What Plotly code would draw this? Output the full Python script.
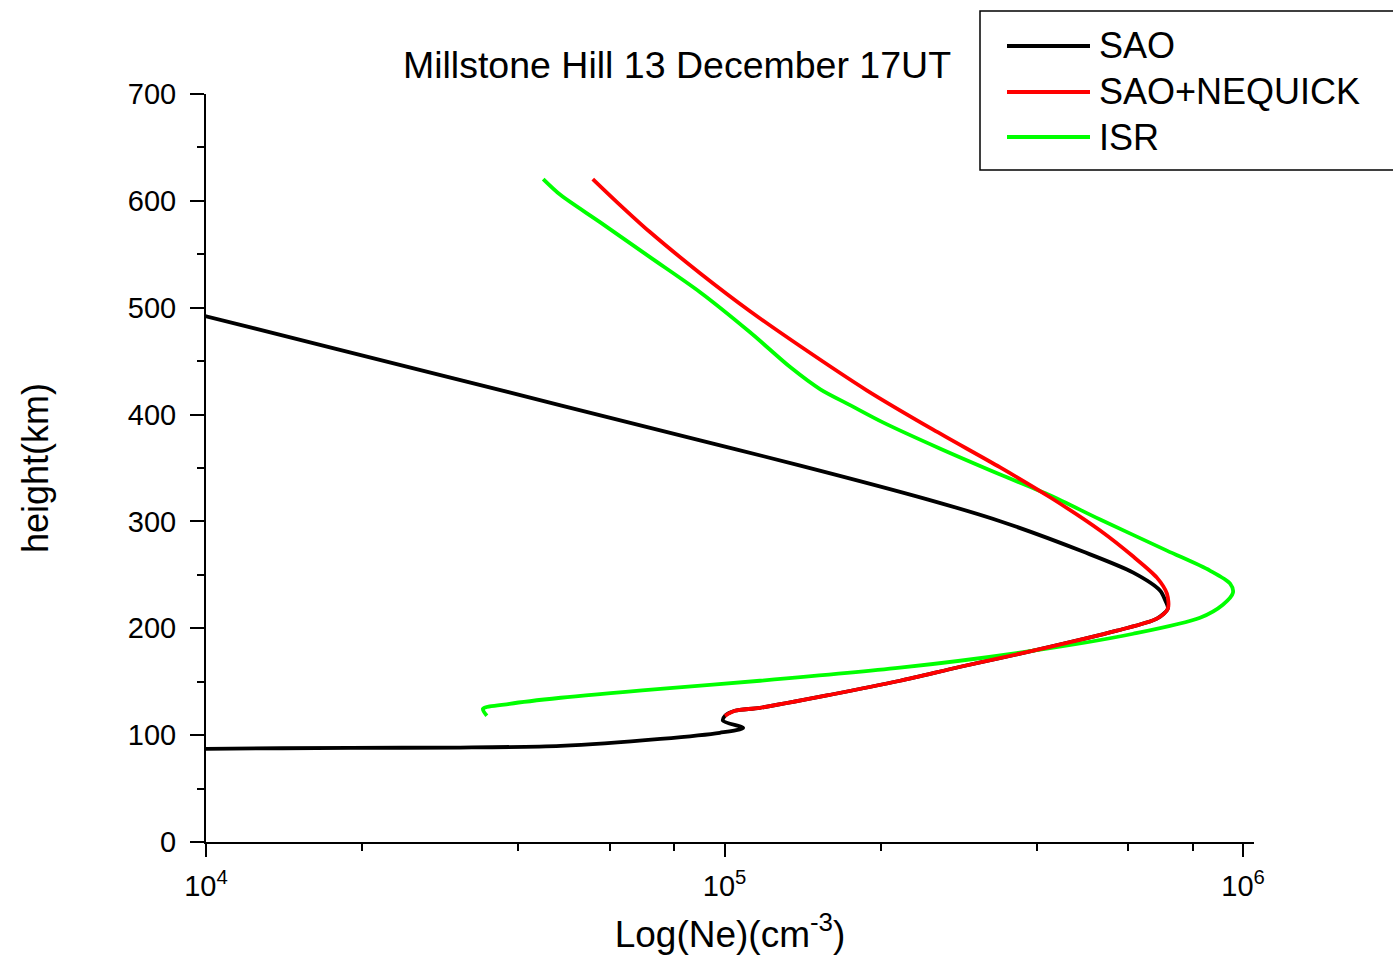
import plotly.graph_objects as go

# Electron density profiles (Ne in cm^-3, height in km)
sao_ne = [8.0e3, 1.0e4, 1.90e4, 3.09e4, 4.83e4, 7.52e4, 9.79e4, 1.086e5, 9.93e4, 1.002e5,
          1.047e5, 1.17e5, 1.60e5, 2.18e5, 2.85e5, 3.94e5, 5.71e5, 6.82e5, 7.16e5, 7.08e5,
          6.92e5, 6.14e5, 4.91e5, 3.40e5, 2.46e5, 1.40e5, 8.97e4, 2.82e4, 1.0e4, 8.9e3]
sao_h = [86.5, 87.2, 88.1, 88.4, 90.0, 96.5, 102.2, 106.8, 113.4, 118.1,
         122.8, 125.6, 137.8, 150.9, 164.0, 179.0, 197.8, 209.0, 218.4, 225.9,
         235.2, 252.1, 271.8, 300.2, 320.7, 352.3, 375.8, 437.2, 492.0, 498.0]

nequick_ne = [1.002e5, 1.047e5, 1.17e5, 1.60e5, 2.18e5, 2.85e5, 3.94e5, 5.71e5, 6.82e5,
              7.16e5, 7.13e5, 6.82e5, 6.14e5, 5.30e5, 4.25e5, 3.40e5, 2.52e5, 1.88e5,
              1.40e5, 1.12e5, 8.97e4, 7.18e4, 6.20e4, 5.57e4]
nequick_h = [118.1, 122.8, 125.6, 137.8, 150.9, 164.0, 179.0, 197.8, 209.0,
             218.4, 232.4, 247.4, 267.1, 291.5, 322.4, 350.5, 386.1, 422.7,
             463.9, 496.7, 532.3, 570.8, 598.9, 620.4]

isr_ne = [3.48e4, 3.42e4, 3.85e4, 4.83e4, 7.52e4, 1.17e5, 2.18e5, 3.94e5, 6.14e5, 8.26e5,
          9.14e5, 9.56e5, 9.44e5, 8.63e5, 7.13e5, 5.30e5, 4.25e5, 3.40e5, 2.60e5, 2.02e5,
          1.75e5, 1.53e5, 1.34e5, 1.12e5, 8.97e4, 7.18e4, 5.75e4, 4.83e4, 4.47e4]
isr_h = [118.1, 124.6, 129.3, 135.0, 143.4, 150.9, 163.1, 179.0, 194.9, 209.9,
         222.1, 233.4, 241.8, 254.0, 272.7, 301.8, 324.3, 343.9, 368.3, 392.7,
         408.6, 423.6, 444.2, 477.0, 514.5, 547.3, 580.1, 605.4, 620.4]

series_names = ["SAO", "SAO+NEQUICK", "ISR"]
series_colors = ["#000000", "#ff0000", "#00ff00"]

x_major = [1e4, 1e5, 1e6]
x_major_text = ["10<sup>4</sup>", "10<sup>5</sup>", "10<sup>6</sup>"]
x_minor = [2e4, 4e4, 6e4, 8e4, 2e5, 4e5, 6e5, 8e5]

FONT = "Arial, Liberation Sans, sans-serif"
W, H = 1393, 966
L, R, T, B = 206, 139, 94, 124

fig = go.Figure()
line_kw = dict(width=3.8, shape="spline", smoothing=0.8)
# draw order: SAO first, then ISR, then SAO+NEQUICK on top
fig.add_trace(go.Scatter(x=sao_ne, y=sao_h, mode="lines", name=series_names[0],
                         line=dict(color=series_colors[0], **line_kw), showlegend=False))
fig.add_trace(go.Scatter(x=isr_ne, y=isr_h, mode="lines", name=series_names[2],
                         line=dict(color=series_colors[2], **line_kw), showlegend=False))
fig.add_trace(go.Scatter(x=nequick_ne, y=nequick_h, mode="lines", name=series_names[1],
                         line=dict(color=series_colors[1], **line_kw), showlegend=False))

pw = W - L - R
ph = H - T - B


def px_x(px):
    return (px - L) / pw


def px_y(py):
    return (H - B - py) / ph


# legend box with long line samples
shapes = [dict(type="rect", xref="paper", yref="paper",
               x0=px_x(980), x1=px_x(1400), y0=px_y(170), y1=px_y(11),
               line=dict(color="black", width=1.5), fillcolor="white", layer="above")]
annotations = []
legend_rows = [46, 92, 137]
for name, color, row in zip(series_names, series_colors, legend_rows):
    shapes.append(dict(type="line", xref="paper", yref="paper",
                       x0=px_x(1007), x1=px_x(1090), y0=px_y(row), y1=px_y(row),
                       line=dict(color=color, width=4), layer="above"))
    annotations.append(dict(xref="paper", yref="paper", x=px_x(1097), y=px_y(row),
                            xanchor="left", yanchor="middle", text=name, showarrow=False,
                            font=dict(family=FONT, size=36, color="black")))

fig.update_layout(
    width=W, height=H,
    margin=dict(l=L, r=R, t=T, b=B),
    paper_bgcolor="white", plot_bgcolor="white",
    title=dict(text="Millstone Hill 13 December 17UT", x=677 / W, xanchor="center",
               y=1 - 65 / H, yanchor="middle", xref="container", yref="container",
               font=dict(family=FONT, size=37.5, color="black")),
    shapes=shapes,
    annotations=annotations,
    showlegend=False,
    xaxis=dict(
        type="log", range=[4, 6.021],
        tickvals=x_major, ticktext=x_major_text,
        ticks="outside", ticklen=13, tickwidth=2, tickcolor="black",
        showline=True, linecolor="black", linewidth=2,
        showgrid=False, zeroline=False,
        tickfont=dict(family=FONT, size=29, color="black"),
        ticklabelstandoff=4,
        minor=dict(tickvals=x_minor, ticks="outside", ticklen=7, tickwidth=2,
                   tickcolor="black", showgrid=False),
        title=dict(text="Log(Ne)(cm<sup>-3</sup>)", standoff=20,
                   font=dict(family=FONT, size=37, color="black")),
    ),
    yaxis=dict(
        range=[0, 700], tickvals=[0, 100, 200, 300, 400, 500, 600, 700],
        ticks="outside", ticklen=14, tickwidth=2, tickcolor="black",
        showline=True, linecolor="black", linewidth=2,
        showgrid=False, zeroline=False,
        tickfont=dict(family=FONT, size=29, color="black"),
        ticklabelstandoff=8,
        minor=dict(dtick=50, ticks="outside", ticklen=7, tickwidth=2,
                   tickcolor="black", showgrid=False),
        title=dict(text="height(km)", standoff=68,
                   font=dict(family=FONT, size=36, color="black")),
    ),
)

fig.write_html("out.html")
